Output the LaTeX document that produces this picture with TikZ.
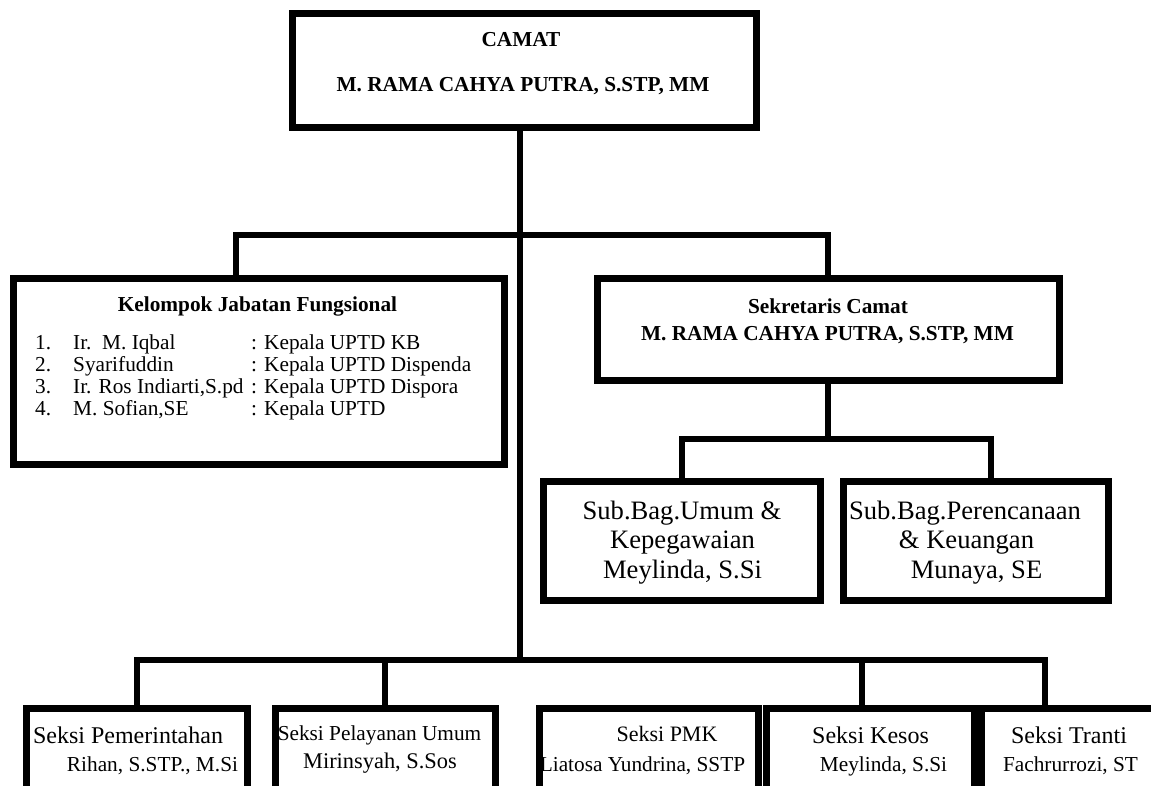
\documentclass[tikz,border=0pt]{standalone}
\usepackage{fontspec}
\setmainfont{Liberation Serif}
\newcommand\setfs[1]{\fontsize{#1}{#1}\selectfont}

\begin{document}
\begin{tikzpicture}[x=1pt, y=-1pt,
  box/.style={draw, line width=7pt, inner sep=0pt, outer sep=0pt},
  link/.style={line width=6.5pt},
  hd/.style={anchor=base, inner sep=0pt, font=\setfs{21.3}\bfseries},
  txt/.style={anchor=base, inner sep=0pt, font=\setfs{21.3}},
  lbl/.style={anchor=base, inner sep=0pt, font=\setfs{24}},
  sub/.style={anchor=base, inner sep=0pt, font=\setfs{26.6}}
]
\clip (0,0) rectangle (1151,786);
\fill[white] (0,0) rectangle (1151,786);

% boxes
\node[box, minimum width=464pt, minimum height=114pt] (camat)  at (524.5,70.5) {};
\node[box, minimum width=491pt, minimum height=186pt] (kjf)    at (259,371.5) {};
\node[box, minimum width=462pt, minimum height=102pt] (sekcam) at (828.5,329.5) {};
\node[box, minimum width=277pt, minimum height=119pt] (umum)   at (682,541) {};
\node[box, minimum width=265pt, minimum height=119pt] (renc)   at (976,541) {};
\node[box, minimum width=221pt, minimum height=150pt] (pem)    at (137,783.5) {};
\node[box, minimum width=220pt, minimum height=150pt] (pelum)  at (385.5,783.5) {};
\node[box, minimum width=219pt, minimum height=150pt] (pmk)    at (649,783.5) {};
\node[box, minimum width=208pt, minimum height=150pt] (kesos)  at (870.5,783.5) {};
\node[box, minimum width=219pt, minimum height=150pt] (tranti) at (1091,783.5) {};

% lines
\coordinate (up)   at (520,235);
\coordinate (down) at (520,660);
\coordinate (upl)  at (236,235);
\coordinate (upr)  at (828,235);
\coordinate (mid)  at (828,439);
\coordinate (midl) at (682,439);
\coordinate (midr) at (991,439);
\coordinate (dn1)  at (137,660);
\coordinate (dn2)  at (385,660);
\coordinate (dn3)  at (862,660);
\coordinate (dn4)  at (1045,660);
\draw[link] (camat.south -| up) -- (down);
\draw[link] (kjf.north -| upl) -- (upl) -- (upr) -- (sekcam.north -| upr);
\draw[link] (sekcam.south -| mid) -- (mid);
\draw[link] (umum.north -| midl) -- (midl) -- (midr) -- (renc.north -| midr);
\draw[link] (pem.north -| dn1) -- (dn1) -- (dn4) -- (tranti.north -| dn4);
\draw[link] (dn2) -- (pelum.north -| dn2);
\draw[link] (dn3) -- (kesos.north -| dn3);

% texts
\node[hd] (camat1) at (521,47) {CAMAT};
\node[hd] (camat2) at (523,92) {M. RAMA CAHYA PUTRA, S.STP, MM};
\node[hd] (kjf0) at (257.5,312) {Kelompok Jabatan Fungsional};
\foreach \no/\who/\job [count=\i] in {1./{Ir.\ \ M. Iqbal}/KB, 2./Syarifuddin/Dispenda,
    3./{Ir. Ros Indiarti,S.pd}/Dispora, 4./{M. Sofian,SE}/{}} {
  \node[txt, anchor=base west] (no\i)  at (35,{327+22*\i}) {\no};
  \node[txt, anchor=base west] (who\i) at (73,{327+22*\i}) {\who};
  \node[txt, anchor=base west] (job\i) at (251,{327+22*\i}) {: Kepala UPTD \job};
}
\node[hd] (sekcam1) at (828,313) {Sekretaris Camat};
\node[hd] (sekcam2) at (827.5,340) {M. RAMA CAHYA PUTRA, S.STP, MM};
\node[sub] (umum1) at (682,519) {Sub.Bag.Umum \&};
\node[sub] (umum2) at (682.5,548) {Kepegawaian};
\node[sub] (umum3) at (682.5,578) {Meylinda, S.Si};
\node[sub] (renc1) at (965,519) {Sub.Bag.Perencanaan};
\node[sub] (renc2) at (966.5,548) {\& Keuangan};
\node[sub] (renc3) at (976.5,578) {Munaya, SE};
\node[lbl] (pem1) at (128,743) {Seksi Pemerintahan};
\node[txt] (pem2) at (152.5,771) {Rihan, S.STP., M.Si};
\node[txt] (pelum1) at (379.5,740) {Seksi Pelayanan Umum};
\node[txt, font=\setfs{22.4}] (pelum2) at (380,768) {Mirinsyah, S.Sos};
\node[txt, font=\setfs{22}] (pmk1) at (667,741) {Seksi PMK};
\node[txt] (pmk2) at (642.5,771) {Liatosa Yundrina, SSTP};
\node[lbl] (kesos1) at (870.5,743) {Seksi Kesos};
\node[txt] (kesos2) at (883.5,771) {Meylinda, S.Si};
\node[lbl] (tranti1) at (1069,743) {Seksi Tranti};
\node[txt] (tranti2) at (1070.5,771) {Fachrurrozi, ST};
\end{tikzpicture}
\end{document}
